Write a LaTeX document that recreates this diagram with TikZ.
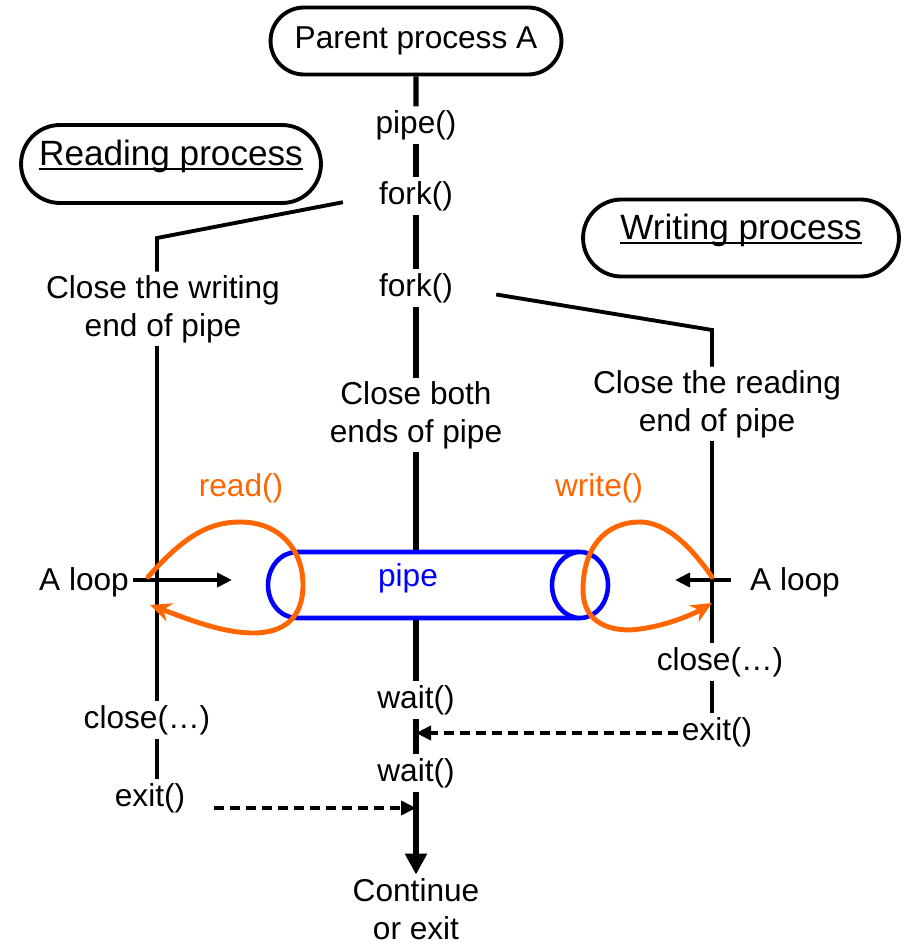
\documentclass[tikz,border=0pt]{standalone}
\usepackage{fontspec}
\setmainfont{Liberation Sans}
\usetikzlibrary{arrows.meta,shapes.misc}
\definecolor{callorange}{RGB}{255,102,0}
\newcommand{\headul}[1]{\setbox0\hbox{#1}\rlap{\rule[-2.5pt]{\wd0}{1.1pt}}\box0}

\begin{document}
\begin{tikzpicture}[x=0.02cm, y=-0.02cm,
    every node/.style={font=\fontsize{18}{21.5}\selectfont, align=center, inner sep=2pt},
    procbox/.style={rounded rectangle, draw, line width=2.2pt},
    headbox/.style={rounded rectangle, draw, line width=2.2pt, font=\fontsize{20}{24}\selectfont, text depth=0.45cm},
    mainline/.style={line width=3pt},
    sideline/.style={line width=2.2pt},
    waitarrow/.style={line width=2.2pt, dash pattern=on 0.2cm off 0.12cm, -{Triangle[length=0.3cm,width=0.28cm]}},
    looparrow/.style={line width=2.2pt, -{Triangle[length=0.3cm,width=0.28cm]}},
    callloop/.style={draw=callorange, line width=2.8pt, line cap=round, -{Stealth[length=0.42cm,width=0.38cm]}},
    pipewall/.style={draw=blue, line width=2.6pt}]
    \useasboundingbox (0,0) rectangle (904,945);

    % Parent process
    \node[procbox, minimum width=5.96cm, minimum height=1.34cm] (parent) at (416,41) {Parent process A};
    \node (mkpipe) at (416,125) {pipe()};
    \node (fork1) at (416,196) {fork()};
    \node (fork2) at (416,288) {fork()};
    \node (closeboth) at (416,415) {Close both\\ends of pipe};
    \node (wait1) at (416,700) {wait()};
    \node (wait2) at (416,773) {wait()};
    \node (cont) at (416,909) {Continue\\or exit};
    \coordinate (join1) at (416,733);
    \coordinate (join2) at (416,808);

    \draw[mainline] (parent) -- (mkpipe);
    \draw[mainline] (mkpipe) -- (fork1);
    \draw[mainline] (fork1) -- (fork2);
    \draw[mainline] (fork2) -- (closeboth);
    \draw[mainline] (closeboth) -- (wait1);
    \draw[mainline] (wait1) -- (wait2);
    \draw[mainline, -{Triangle[length=0.42cm,width=0.42cm]}] (wait2) -- (cont);

    % Reading process
    \node[headbox, minimum width=6.14cm, minimum height=1.56cm] (rdhead) at (171,164) {\headul{Reading process}};
    \node (rdclose) at (163,309) {Close the writing\\end of pipe};
    \node (rdend) at (147,720) {close(…)};
    \node (rdexit) at (150,798) {exit()};
    \coordinate (lbend) at (157,238);
    \draw[sideline, shorten <=0.66cm] (fork1.west) -- (lbend) -- (lbend |- rdclose.north);
    \draw[sideline] (lbend |- rdclose.south) -- (lbend |- rdend.north);
    \draw[sideline] (lbend |- rdend.south) -- (lbend |- rdexit.north);
    \draw[waitarrow, shorten <=0.5cm] (rdexit.east |- join2) -- (join2);

    % Writing process
    \node[headbox, minimum width=6.46cm, minimum height=1.54cm] (wrhead) at (741,238) {\headul{Writing process}};
    \node (wrclose) at (717,404) {Close the reading\\end of pipe};
    \node (wrend) at (720,662) {close(…)};
    \node (wrexit) at (717,732) {exit()};
    \coordinate (rbend) at (712,330);
    \draw[sideline, shorten <=0.8cm] (fork2.east) -- (rbend) -- (rbend |- wrclose.north);
    \draw[sideline] (rbend |- wrclose.south) -- (rbend |- wrend.north);
    \draw[sideline] (rbend |- wrend.south) -- (rbend |- wrexit.north);
    \draw[waitarrow] (wrexit.west |- join1) -- (join1);

    % Pipe
    \draw[pipewall, fill=white] (580,552) -- (297,552) arc[start angle=90, end angle=270, x radius=0.58cm, y radius=0.66cm] -- (580,618);
    \draw[pipewall, fill=white] (580,585) ellipse [x radius=0.56cm, y radius=0.66cm];
    \node[text=blue] (pipelbl) at (408,578) {pipe};

    % Loops
    \node (loopL) at (84,582) {A loop};
    \node (loopR) at (795,582) {A loop};
    \coordinate (lpin) at (232,580);
    \coordinate (rpin) at (675,580);
    \draw[looparrow] (loopL.east |- lpin) -- (lpin);
    \draw[looparrow, shorten <=0.3cm] (loopR.west |- rpin) -- (rpin);
    \node[text=callorange] (rdcall) at (241,488) {read()};
    \node[text=callorange] (wrcall) at (599,488) {write()};
    \draw[callloop] (148,577) .. controls (185,535) and (210,522) .. (240,522)
        .. controls (280,522) and (303,550) .. (303,585)
        .. controls (303,617) and (285,633) .. (253,633)
        .. controls (220,633) and (180,616) .. (150,605);
    \draw[callloop] (712,577) .. controls (690,545) and (665,522) .. (640,522)
        .. controls (605,522) and (583,548) .. (583,590)
        .. controls (583,616) and (600,630) .. (630,630)
        .. controls (660,628) and (690,616) .. (712,603);
\end{tikzpicture}
\end{document}
